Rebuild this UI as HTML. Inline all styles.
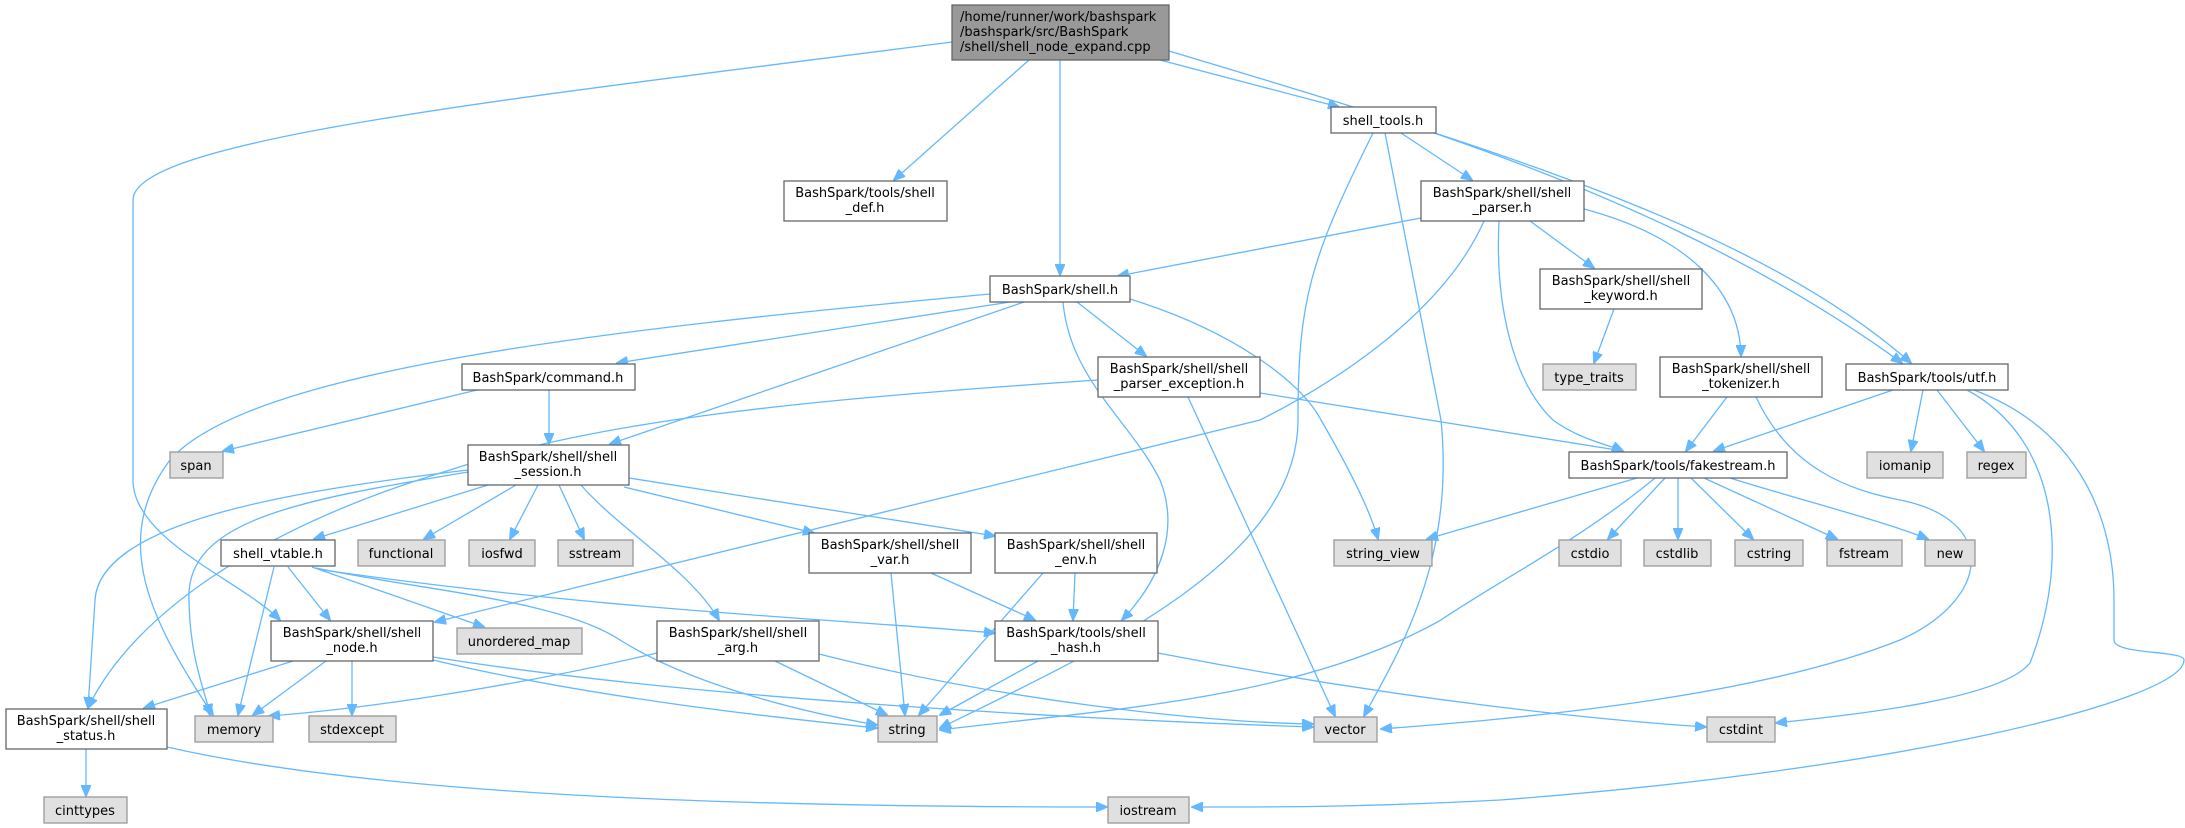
<!DOCTYPE html>
<html><head><meta charset="utf-8"><style>
html,body{margin:0;padding:0;background:#fff;}
svg{display:block;}
text{font-family:"DejaVu Sans","Liberation Sans",sans-serif;font-size:13px;fill:#000;}
.w{fill:#fff;stroke:#666;stroke-width:1.3;}
.g{fill:#e0e0e0;stroke:#999;stroke-width:1.3;}
.e{fill:none;stroke:#63b8ff;stroke-width:1.3;}
</style></head><body>
<svg width="2185" height="828" viewBox="0 0 2185 828" xmlns="http://www.w3.org/2000/svg">
<defs><marker id="a" markerWidth="12" markerHeight="10" refX="11" refY="5" orient="auto" markerUnits="userSpaceOnUse"><path d="M0,0 L12,5 L0,10 z" fill="#63b8ff" stroke="#63b8ff"/></marker></defs>
<g class="e" marker-end="url(#a)">
<!-- main -->
<path d="M952,42 C500,100 133,140 133,200 L133,480 C133,540 240,580 280,620"/>
<path d="M1029,60 L894,180"/>
<path d="M1060,60 L1060,275"/>
<path d="M1160,60 L1339,107"/>
<path d="M1169,51 C1500,150 1760,230 1911,363"/>
<!-- shell_tools -->
<path d="M1401,133 L1472,180"/>
<path d="M1434,133 C1600,190 1760,260 1902,363"/>
<path d="M1373,133 C1310,260 1298,300 1298,420 C1298,560 1100,650 940,728"/>
<path d="M1385,133 L1441,420 C1455,560 1400,650 1364,716"/>
<!-- shell_parser -->
<path d="M1421,218 L1118,276"/>
<path d="M1530,221 L1594,268"/>
<path d="M1584,209 C1700,240 1740,300 1741,356"/>
<path d="M1499,221 C1495,300 1511,380 1553,420 C1580,440 1610,445 1623,451"/>
<path d="M1484,221 C1440,320 1320,390 1260,420 L435,622"/>
<path d="M1614,309 L1594,363"/>
<!-- tokenizer -->
<path d="M1727,397 L1686,451"/>
<path d="M1756,397 C1790,470 1850,490 1900,500 C2000,520 1990,600 1900,640 C1750,700 1500,720 1381,729"/>
<!-- utf -->
<path d="M1893,390 L1714,451"/>
<path d="M1923,390 L1911,451"/>
<path d="M1937,390 L1984,451"/>
<path d="M1967,390 C2060,440 2070,560 2030,663 C2000,700 1850,715 1776,723"/>
<path d="M1974,390 C2080,430 2114,520 2114,600 L2114,640 C2114,655 2184,650 2184,660 C2184,700 1900,770 1500,800 C1350,808 1250,807 1192,807"/>
<!-- parser_exception -->
<path d="M1260,393 L1623,451"/>
<path d="M1188,397 L1335,716"/>
<path d="M1098,380 C800,400 600,420 450,470 C250,530 130,620 88,708"/>
<!-- shell.h -->
<path d="M990,294 C600,330 250,370 170,460 C110,540 150,620 213,715"/>
<path d="M1010,302 L617,363"/>
<path d="M1024,302 L610,444"/>
<path d="M1077,302 L1146,356"/>
<path d="M1063,302 C1070,380 1130,420 1160,480 C1180,530 1160,580 1122,620"/>
<path d="M1130,299 C1230,330 1300,380 1321,420 C1350,470 1370,510 1378,539"/>
<!-- command -->
<path d="M477,390 L223,451"/>
<path d="M549,390 L549,444"/>
<!-- session -->
<path d="M488,485 L314,539"/>
<path d="M516,485 L424,539"/>
<path d="M538,485 L510,539"/>
<path d="M559,485 L584,539"/>
<path d="M624,487 L814,533"/>
<path d="M629,478 L995,536"/>
<path d="M581,485 C620,530 690,570 719,620"/>
<path d="M468,472 C300,500 185,520 189,600 C190,660 205,690 210,715"/>
<path d="M468,470 C300,490 100,520 95,600 L88,708"/>
<!-- vtable -->
<path d="M288,567 L330,620"/>
<path d="M274,567 L238,715"/>
<path d="M312,567 L484,627"/>
<path d="M316,568 C420,590 560,600 620,640 C700,690 820,715 877,725"/>
<path d="M323,570 C600,610 850,620 995,633"/>
<!-- var/env -->
<path d="M891,573 L905,715"/>
<path d="M931,573 L1035,620"/>
<path d="M1043,573 L919,715"/>
<path d="M1075,573 L1073,620"/>
<!-- node -->
<path d="M293,661 L144,708"/>
<path d="M326,661 L253,715"/>
<path d="M352,661 L352,715"/>
<path d="M433,660 C600,700 800,720 877,728"/>
<path d="M433,657 C700,700 1100,720 1313,727"/>
<!-- arg -->
<path d="M657,653 C500,690 350,710 269,716"/>
<path d="M775,661 L887,715"/>
<path d="M819,654 C1000,700 1200,722 1313,724"/>
<!-- hash -->
<path d="M1038,661 L940,715"/>
<path d="M1158,653 C1400,700 1600,720 1706,727"/>
<!-- status -->
<path d="M86,749 L86,796"/>
<path d="M167,747 C400,800 800,807 1107,807"/>
<!-- fakestream -->
<path d="M1637,478 L1427,539"/>
<path d="M1655,478 C1580,540 1500,580 1441,620 C1300,700 1100,710 940,730"/>
<path d="M1665,478 L1608,539"/>
<path d="M1678,478 L1678,539"/>
<path d="M1691,478 L1753,539"/>
<path d="M1704,478 L1837,539"/>
<path d="M1730,478 C1800,500 1880,520 1928,539"/>
</g>
<!-- nodes -->
<rect x="952" y="5" width="217" height="55" fill="#999" stroke="#666" stroke-width="1.3"/>
<text x="960" y="21">/home/runner/work/bashspark</text>
<text x="960" y="36">/bashspark/src/BashSpark</text>
<text x="960" y="51">/shell/shell_node_expand.cpp</text>
<g text-anchor="middle">
<rect class="w" x="784" y="181" width="163" height="40"/><text x="865" y="197">BashSpark/tools/shell</text><text x="865" y="212">_def.h</text>
<rect class="w" x="990" y="276" width="140" height="26"/><text x="1060" y="294">BashSpark/shell.h</text>
<rect class="w" x="462" y="364" width="173" height="26"/><text x="548" y="382">BashSpark/command.h</text>
<rect class="w" x="1331" y="107" width="105" height="26"/><text x="1383" y="125">shell_tools.h</text>
<rect class="w" x="1421" y="181" width="163" height="40"/><text x="1502" y="197">BashSpark/shell/shell</text><text x="1502" y="212">_parser.h</text>
<rect class="w" x="1540" y="269" width="162" height="40"/><text x="1621" y="285">BashSpark/shell/shell</text><text x="1621" y="300">_keyword.h</text>
<rect class="g" x="1543" y="364" width="93" height="26"/><text x="1589" y="382">type_traits</text>
<rect class="w" x="1660" y="357" width="162" height="40"/><text x="1741" y="373">BashSpark/shell/shell</text><text x="1741" y="388">_tokenizer.h</text>
<rect class="w" x="1846" y="364" width="162" height="26"/><text x="1927" y="382">BashSpark/tools/utf.h</text>
<rect class="w" x="1098" y="357" width="162" height="40"/><text x="1179" y="373">BashSpark/shell/shell</text><text x="1179" y="388">_parser_exception.h</text>
<rect class="g" x="170" y="452" width="53" height="26"/><text x="196" y="470">span</text>
<rect class="w" x="468" y="445" width="161" height="40"/><text x="548" y="461">BashSpark/shell/shell</text><text x="548" y="476">_session.h</text>
<rect class="w" x="221" y="540" width="114" height="26"/><text x="278" y="558">shell_vtable.h</text>
<rect class="g" x="358" y="540" width="87" height="26"/><text x="401" y="558">functional</text>
<rect class="g" x="469" y="540" width="66" height="26"/><text x="502" y="558">iosfwd</text>
<rect class="g" x="558" y="540" width="75" height="26"/><text x="595" y="558">sstream</text>
<rect class="w" x="809" y="533" width="162" height="40"/><text x="890" y="549">BashSpark/shell/shell</text><text x="890" y="564">_var.h</text>
<rect class="w" x="995" y="533" width="162" height="40"/><text x="1076" y="549">BashSpark/shell/shell</text><text x="1076" y="564">_env.h</text>
<rect class="w" x="271" y="621" width="162" height="40"/><text x="352" y="637">BashSpark/shell/shell</text><text x="352" y="652">_node.h</text>
<rect class="g" x="457" y="628" width="125" height="26"/><text x="519" y="646">unordered_map</text>
<rect class="w" x="657" y="621" width="162" height="40"/><text x="738" y="637">BashSpark/shell/shell</text><text x="738" y="652">_arg.h</text>
<rect class="w" x="995" y="621" width="163" height="40"/><text x="1076" y="637">BashSpark/tools/shell</text><text x="1076" y="652">_hash.h</text>
<rect class="w" x="6" y="709" width="161" height="40"/><text x="86" y="725">BashSpark/shell/shell</text><text x="86" y="740">_status.h</text>
<rect class="g" x="195" y="716" width="78" height="26"/><text x="234" y="734">memory</text>
<rect class="g" x="309" y="716" width="87" height="26"/><text x="352" y="734">stdexcept</text>
<rect class="g" x="878" y="716" width="59" height="26"/><text x="907" y="734">string</text>
<rect class="g" x="44" y="797" width="83" height="26"/><text x="85" y="815">cinttypes</text>
<rect class="w" x="1569" y="452" width="218" height="26"/><text x="1678" y="470">BashSpark/tools/fakestream.h</text>
<rect class="g" x="1867" y="452" width="76" height="26"/><text x="1905" y="470">iomanip</text>
<rect class="g" x="1967" y="452" width="59" height="26"/><text x="1996" y="470">regex</text>
<rect class="g" x="1334" y="540" width="98" height="26"/><text x="1383" y="558">string_view</text>
<rect class="g" x="1559" y="540" width="62" height="26"/><text x="1590" y="558">cstdio</text>
<rect class="g" x="1644" y="540" width="67" height="26"/><text x="1677" y="558">cstdlib</text>
<rect class="g" x="1735" y="540" width="68" height="26"/><text x="1769" y="558">cstring</text>
<rect class="g" x="1827" y="540" width="75" height="26"/><text x="1864" y="558">fstream</text>
<rect class="g" x="1925" y="540" width="50" height="26"/><text x="1950" y="558">new</text>
<rect class="g" x="1314" y="717" width="63" height="25"/><text x="1345" y="734">vector</text>
<rect class="g" x="1707" y="717" width="68" height="25"/><text x="1741" y="734">cstdint</text>
<rect class="g" x="1108" y="797" width="81" height="26"/><text x="1148" y="815">iostream</text>
</g>
</svg>
</body></html>
